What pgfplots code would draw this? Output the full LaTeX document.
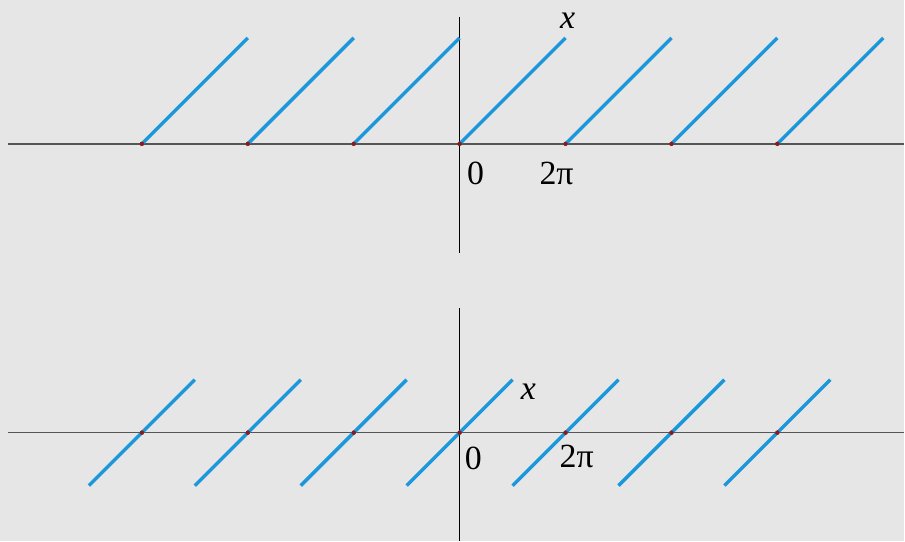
\documentclass[border=0pt]{standalone}
\usepackage{pgfplots}
\pgfplotsset{compat=1.18}
\usepackage{fontspec}
\setmainfont{Liberation Serif}
\newfontfamily\labfont{Liberation Serif}
\definecolor{bg}{HTML}{E6E6E6}
\definecolor{tooth}{HTML}{1B97DB}
\definecolor{dotred}{HTML}{8B1A1A}
\definecolor{xline}{HTML}{555555}

\pgfplotsset{
  saw/.style={
    scale only axis, x=53bp, y=53bp,
    xmin=-8.528, xmax=8.396,
    axis lines=middle, ticks=none, clip=false,
    unbounded coords=jump,
    axis line style={-},
    x axis line style={draw=xline, line width=1.5bp},
    y axis line style={draw=black, line width=1bp},
  },
}
\tikzset{lab/.style={font=\labfont\fontsize{34}{38}\selectfont, inner sep=0pt}}

\begin{document}
\begin{tikzpicture}
\fill[bg] (0,0) rectangle (905bp,541bp);

% sawtooth on [0, 2pi), periodically extended (x in units of pi)
\begin{axis}[saw, ymin=-2.057, ymax=2.396, at={(8bp,288bp)}, anchor=south west]
\addplot[tooth, line width=3.4bp] coordinates {
  (-6,0) (-4,2) (nan,nan)
  (-4,0) (-2,2) (nan,nan)
  (-2,0) (0,2) (nan,nan)
  (0,0) (2,2) (nan,nan)
  (2,0) (4,2) (nan,nan)
  (4,0) (6,2) (nan,nan)
  (6,0) (8,2)
};
\addplot[only marks, mark=*, mark size=2bp, dotred] coordinates {
  (-6,0) (-4,0) (-2,0) (0,0) (2,0) (4,0) (6,0)
};
\node[lab] at (axis cs:0.30,-0.55) {0};
\node[lab] at (axis cs:1.83,-0.55) {2π};
\node[lab] at (axis cs:2.04,2.32) {\itshape x};
\end{axis}

% sawtooth on [-pi, pi), periodically extended
\begin{axis}[saw, ymin=-2.038, ymax=2.358, at={(8bp,0bp)}, anchor=south west]
\addplot[tooth, line width=3.4bp] coordinates {
  (-7,-1) (-5,1) (nan,nan)
  (-5,-1) (-3,1) (nan,nan)
  (-3,-1) (-1,1) (nan,nan)
  (-1,-1) (1,1) (nan,nan)
  (1,-1) (3,1) (nan,nan)
  (3,-1) (5,1) (nan,nan)
  (5,-1) (7,1)
};
\addplot[only marks, mark=*, mark size=2bp, dotred] coordinates {
  (-6,0) (-4,0) (-2,0) (0,0) (2,0) (4,0) (6,0)
};
\node[lab] at (axis cs:0.26,-0.49) {0};
\node[lab] at (axis cs:2.21,-0.45) {2π};
\node[lab] at (axis cs:1.30,0.77) {\itshape x};
\end{axis}
\end{tikzpicture}
\end{document}
